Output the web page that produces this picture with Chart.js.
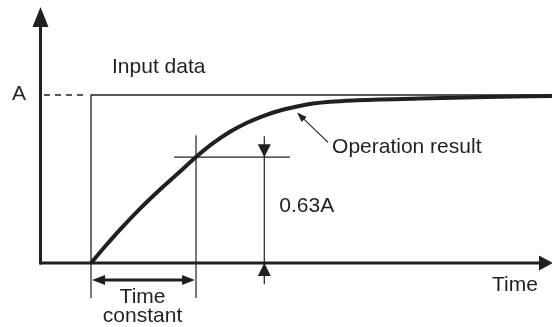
<!DOCTYPE html>
<html>
<head>
<meta charset="utf-8">
<script src="https://cdn.jsdelivr.net/npm/chart.js@4"></script>
<style>
  html, body { margin: 0; padding: 0; background: #fff; }
  canvas { display: block; }
</style>
</head>
<body>
<canvas id="chart" width="552" height="327"></canvas>
<script>
// ── Colours / fonts ──
const INK  = '#231f20';
const FONT = '21px "Liberation Sans", Arial, Helvetica, sans-serif';

// ── Data (time in units of the time constant, value in units of A) ──
const resultTime   = [0, 0.133, 0.276, 0.467, 0.657, 0.848, 1.0, 1.162, 1.324, 1.486, 1.638, 1.8, 1.962, 2.114, 2.276, 2.495, 3.133, 3.771, 4.39];
const resultValues = [0, 0.098, 0.199, 0.324, 0.438, 0.545, 0.631, 0.713, 0.781, 0.835, 0.875, 0.908, 0.932, 0.949, 0.960, 0.968, 0.979, 0.988, 0.994];
const inputTime    = [0, 0, 4.39];
const inputValues  = [0, 1, 1];

const A_LEVEL       = 1;
const TIME_CONSTANT = 1;
const RATIO         = 0.63;
const MARK_TIME     = 1.65;  // where the 0.63A dimension sits
const LEADER_INDEX  = 12;    // result point the "Operation result" arrow points at

const labels = {
  level    : 'A',
  input    : 'Input data',
  result   : 'Operation result',
  ratio    : '0.63A',
  time     : 'Time',
  constant : ['Time', 'constant'],
};

const X_MIN = -0.486, X_MAX = 4.39;
const Y_MIN = 0,      Y_MAX = 1.524;

// ── Small drawing helpers ──
function line(ctx, x1, y1, x2, y2, w) {
  ctx.beginPath();
  ctx.lineWidth = w;
  ctx.moveTo(x1, y1);
  ctx.lineTo(x2, y2);
  ctx.stroke();
}

// filled arrow head, tip at (x,y), pointing along (dx,dy)
function head(ctx, x, y, dx, dy, len, half) {
  var n = Math.hypot(dx, dy);
  dx /= n; dy /= n;
  var bx = x - dx * len, by = y - dy * len;
  ctx.beginPath();
  ctx.moveTo(x, y);
  ctx.lineTo(bx - dy * half, by + dx * half);
  ctx.lineTo(bx + dy * half, by - dx * half);
  ctx.closePath();
  ctx.fill();
}

// ── Axes, guides and text ──
const sketchPlugin = {
  id: 'sketch',
  afterDatasetsDraw(chart) {
    var ctx  = chart.ctx;
    var area = chart.chartArea;
    var px = function(v) { return chart.scales.x.getPixelForValue(v); };
    var py = function(v) { return chart.scales.y.getPixelForValue(v); };

    var x0     = px(0);
    var xTau   = px(TIME_CONSTANT);
    var xMark  = px(MARK_TIME);
    var yBase  = py(0);
    var yA     = py(A_LEVEL);
    var yRatio = py(RATIO * A_LEVEL);

    ctx.save();
    ctx.strokeStyle = INK;
    ctx.fillStyle   = INK;
    ctx.lineCap     = 'butt';

    // axes
    var ax = area.left + 0.5;
    line(ctx, ax, yBase + 1.5, ax, area.top + 18, 3);
    head(ctx, ax, area.top, 0, -1, 20, 8);
    line(ctx, area.left, yBase, area.right - 12, yBase, 3);
    head(ctx, area.right + 1, yBase, 1, 0, 14, 7.5);

    // dashed lead-in at level A
    ctx.setLineDash([6, 5]);
    line(ctx, area.left + 4, yA, x0 - 3, yA, 1.3);
    ctx.setLineDash([]);

    // guides below the axis
    line(ctx, x0, yBase, x0, yBase + 35, 1.2);
    line(ctx, xTau, yRatio - 22, xTau, yBase + 35, 1.2);
    line(ctx, xTau - 22, yRatio, xTau + 94, yRatio, 1.2);

    // 0.63A dimension
    line(ctx, xMark, yRatio - 21, xMark, yBase + 21, 1.2);
    head(ctx, xMark, yRatio, 0, 1, 13, 6.5);
    head(ctx, xMark, yBase, 0, -1, 13, 6.5);

    // time constant double arrow
    var yDim = yBase + 17;
    line(ctx, x0 + 10, yDim, xTau - 10, yDim, 3);
    head(ctx, x0 + 1, yDim, -1, 0, 13, 5);
    head(ctx, xTau - 1, yDim, 1, 0, 13, 5);

    // leader to the curve
    var tipX = px(resultTime[LEADER_INDEX]);
    var tipY = py(resultValues[LEADER_INDEX]) + 6;
    line(ctx, tipX + 31, tipY + 30, tipX + 4, tipY + 4, 1.1);
    head(ctx, tipX, tipY, -1, -1, 10, 3.5);

    // text
    ctx.font = FONT;
    ctx.textBaseline = 'alphabetic';
    ctx.textAlign = 'left';
    ctx.fillText(labels.level, 12, yA + 5);
    ctx.fillText(labels.input, x0 + 21, yA - 22);
    ctx.fillText(labels.result, tipX + 35, tipY + 41);
    ctx.fillText(labels.ratio, xMark + 15, yRatio + 55);
    ctx.fillText(labels.time, area.right - 60, yBase + 28);
    ctx.textAlign = 'center';
    var cx = (x0 + xTau) / 2 - 1;
    ctx.fillText(labels.constant[0], cx, yBase + 40);
    ctx.fillText(labels.constant[1], cx, yBase + 59);
    ctx.restore();
  },
};

function toPoints(xs, ys) {
  return xs.map(function(x, i) { return { x: x, y: ys[i] }; });
}

new Chart(document.getElementById('chart'), {
  type: 'scatter',
  data: {
    datasets: [
      {
        label           : 'Input data',
        data            : toPoints(inputTime, inputValues),
        showLine        : true,
        borderColor     : INK,
        borderWidth     : 1.3,
        pointRadius     : 0,
        tension         : 0,
      },
      {
        label           : 'Operation result',
        data            : toPoints(resultTime, resultValues),
        showLine        : true,
        borderColor     : INK,
        borderWidth     : 4,
        pointRadius     : 0,
        cubicInterpolationMode : 'monotone',
      },
    ],
  },
  options: {
    responsive : false,
    animation  : false,
    layout     : { padding: { left: 40, right: 0, top: 7, bottom: 64 } },
    plugins    : {
      legend  : { display: false },
      tooltip : { enabled: false },
    },
    scales : {
      x : { type: 'linear', min: X_MIN, max: X_MAX, display: false },
      y : { type: 'linear', min: Y_MIN, max: Y_MAX, display: false },
    },
  },
  plugins: [sketchPlugin],
});
</script>
</body>
</html>
